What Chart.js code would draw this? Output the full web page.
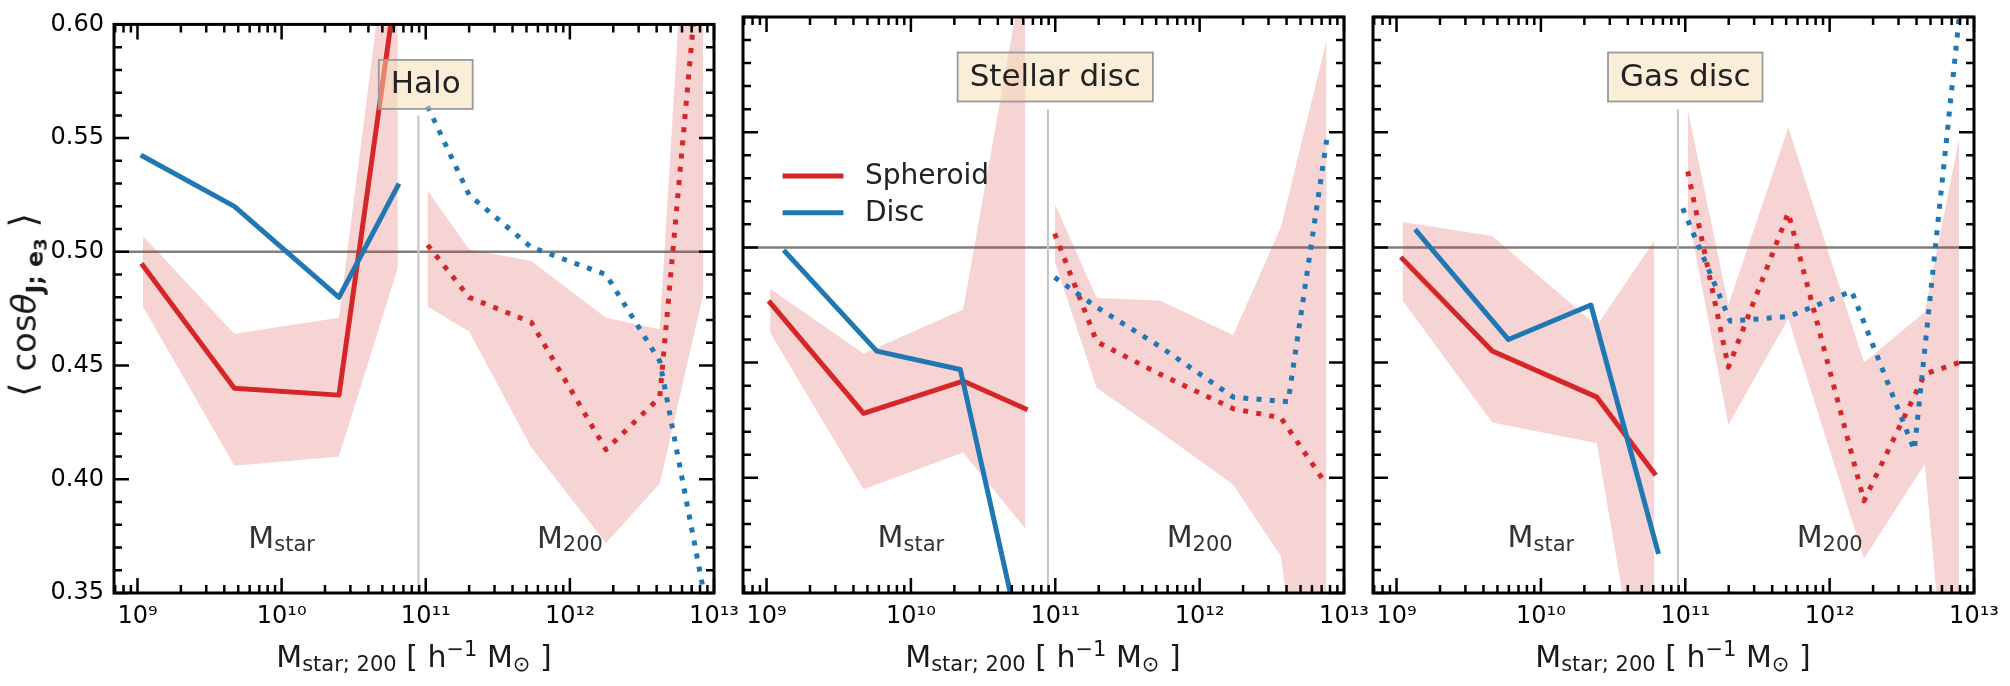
<!DOCTYPE html>
<html>
<head>
<meta charset="utf-8">
<script src="https://cdn.jsdelivr.net/npm/chart.js@4.4.1/dist/chart.umd.min.js"></script>
<style>
  body { margin: 0; background: #fff; font-family: "DejaVu Sans", sans-serif; }
  #wrap { position: relative; width: 2010px; height: 686px; overflow: hidden; }
  canvas { position: absolute; left: 0; top: 0; }
  .xt { position: absolute; top: 639px; font-size: 30px; line-height: 1; color: #1a1a1a; white-space: nowrap; transform: translateX(-50%); }
  .xt sub { font-size: 0.7em; vertical-align: -0.22em; }
  .xt sup { font-size: 0.7em; vertical-align: 0.5em; }
  #yt { position: absolute; left: 27px; top: 305px; font-size: 34px; line-height: 1; color: #1a1a1a; white-space: nowrap; transform: translate(-50%, -50%) rotate(-90deg); }
  #yt .br { font-size: 1.1em; }
  #yt sub { font-size: 0.7em; vertical-align: -0.3em; font-weight: bold; }
  #yt sub sub { font-size: 0.75em; vertical-align: -0.2em; }
</style>
</head>
<body>
<div id="wrap">
  <canvas id="halo" width="2010" height="686"></canvas>
  <canvas id="stellar" width="2010" height="686"></canvas>
  <canvas id="gas" width="2010" height="686"></canvas>
  <div id="yt"><span class="br">⟨</span> cos<i>θ</i><sub>J; e<sub>3</sub></sub> <span class="br">⟩</span></div>
  <div class="xt" style="left:414px">M<sub>star; 200</sub> [ h<sup>−1</sup> M<sub>⊙</sub> ]</div>
  <div class="xt" style="left:1043px">M<sub>star; 200</sub> [ h<sup>−1</sup> M<sub>⊙</sub> ]</div>
  <div class="xt" style="left:1673px">M<sub>star; 200</sub> [ h<sup>−1</sup> M<sub>⊙</sub> ]</div>
</div>
<script>
// axis ticks
const xTickValues = [1e9, 1e10, 1e11, 1e12, 1e13];
const xTickLabels = ['10⁹', '10¹⁰', '10¹¹', '10¹²', '10¹³'];
const yTickValues = [0.35, 0.40, 0.45, 0.50, 0.55, 0.60];
const yTickLabels = ['0.35', '0.40', '0.45', '0.50', '0.55', '0.60'];
const xMin = Math.pow(10, 8.837), xMax = 1e13;
const yMin = 0.35, yMax = 0.60;

const panelTitles = ['Halo', 'Stellar disc', 'Gas disc'];
const legendLabels = ['Spheroid', 'Disc'];
const refLevel = 0.5;        // horizontal reference
const splitMass = 8.9e10;    // M_star / M_200 divider
const splitTop = 0.56;

// Halo panel
const haloStarX      = [1.09e9, 4.7e9, 2.5e10, 6.4e10];
const haloStarSph    = [0.494, 0.440, 0.437, 0.622];
const haloStarSphLo  = [0.476, 0.406, 0.410, 0.493];
const haloStarSphHi  = [0.507, 0.464, 0.471, 0.675];
const haloStarDisc   = [0.542, 0.520, 0.480, 0.529];
const haloM200X      = [1.03e11, 2.0e11, 5.4e11, 1.78e12, 4.2e12, 8.4e12];
const haloM200Sph    = [0.503, 0.480, 0.469, 0.413, 0.436, 0.648];
const haloM200SphLo  = [0.476, 0.465, 0.414, 0.372, 0.398, 0.481];
const haloM200SphHi  = [0.527, 0.501, 0.496, 0.471, 0.466, 0.780];
const haloM200Disc   = [0.564, 0.525, 0.502, 0.490, 0.452, 0.352];

// Stellar disc panel
const stelStarSphX   = [1.06e9, 4.7e9, 2.3e10, 6.2e10];
const stelStarSph    = [0.476, 0.428, 0.442, 0.430];
const stelStarSphLo  = [0.463, 0.395, 0.411, 0.378];
const stelStarSphHi  = [0.482, 0.454, 0.473, 0.625];
const stelStarDiscX  = [1.35e9, 5.8e9, 2.2e10, 6.2e10];
const stelStarDisc   = [0.498, 0.455, 0.447, 0.321];
const stelM200SphX   = [9.9e10, 1.94e11, 5.3e11, 1.71e12, 3.66e12, 7.57e12];
const stelM200Sph    = [0.506, 0.459, 0.445, 0.430, 0.426, 0.397];
const stelM200SphLo  = [0.494, 0.439, 0.420, 0.397, 0.366, 0.210];
const stelM200SphHi  = [0.519, 0.478, 0.477, 0.462, 0.509, 0.590];
const stelM200DiscX  = [9.9e10, 1.94e11, 5.3e11, 1.71e12, 4.1e12, 7.6e12];
const stelM200Disc   = [0.487, 0.474, 0.457, 0.435, 0.433, 0.547];

// Gas disc panel
const gasStarSphX    = [1.1e9, 4.6e9, 2.44e10, 6.1e10];
const gasStarSph     = [0.495, 0.455, 0.435, 0.402];
const gasStarSphLo   = [0.477, 0.424, 0.415, 0.269];
const gasStarSphHi   = [0.511, 0.505, 0.466, 0.503];
const gasStarDiscX   = [1.38e9, 5.96e9, 2.22e10, 6.46e10];
const gasStarDisc    = [0.507, 0.460, 0.475, 0.368];
const gasM200SphX    = [1.04e11, 1.99e11, 5.17e11, 1.73e12, 4.56e12, 7.87e12];
const gasM200Sph     = [0.533, 0.448, 0.515, 0.390, 0.445, 0.450];
const gasM200SphLo   = [0.515, 0.423, 0.469, 0.365, 0.406, 0.242];
const gasM200SphHi   = [0.560, 0.475, 0.552, 0.450, 0.472, 0.547];
const gasM200DiscX   = [9.6e10, 2.05e11, 5.2e11, 1.42e12, 3.86e12, 7.9e12];
const gasM200Disc    = [0.517, 0.468, 0.470, 0.481, 0.412, 0.600];

const RED = '#d62728', BLUE = '#1f77b4', BAND = 'rgba(214,39,40,0.2)';
const FONT = '"DejaVu Sans", sans-serif';

const pts = (xs, ys) => xs.map((x, i) => ({x: x, y: ys[i]}));

function lineSet(label, xs, ys, color, dotted) {
    return {
        label: label,
        data: pts(xs, ys),
        borderColor: color,
        borderWidth: 5,
        borderDash: dotted ? [5, 8.25] : [],
        borderCapStyle: dotted ? 'butt' : 'square',
        borderJoinStyle: 'round',
        pointRadius: 0,
        tension: 0,
        fill: false
    };
}
function bandSets(xs, lo, hi) {
    return [
        {data: pts(xs, hi), borderWidth: 0, pointRadius: 0, backgroundColor: BAND, fill: '+1'},
        {data: pts(xs, lo), borderWidth: 0, pointRadius: 0, fill: false}
    ];
}

function drawSub(ctx, main, sub, cx, base, size, color) {
    ctx.font = size + 'px ' + FONT;
    const w1 = ctx.measureText(main).width;
    ctx.font = (size * 0.7) + 'px ' + FONT;
    const w2 = ctx.measureText(sub).width;
    let x0 = cx - (w1 + w2) / 2;
    ctx.fillStyle = color;
    ctx.textAlign = 'left';
    ctx.textBaseline = 'alphabetic';
    ctx.font = size + 'px ' + FONT;
    ctx.fillText(main, x0, base);
    ctx.font = (size * 0.7) + 'px ' + FONT;
    ctx.fillText(sub, x0 + w1, base + size * 0.13);
}

const panelDecor = {
    id: 'panelDecor',
    beforeDatasetsDraw(chart) {
        const ctx = chart.ctx, a = chart.chartArea, xs = chart.scales.x, ys = chart.scales.y;
        ctx.save();
        ctx.lineWidth = 2.5;
        ctx.strokeStyle = 'rgba(0,0,0,0.5)';
        const py = ys.getPixelForValue(refLevel);
        ctx.beginPath(); ctx.moveTo(a.left, py); ctx.lineTo(a.right, py); ctx.stroke();
        ctx.lineWidth = 2;
        ctx.strokeStyle = '#c4c4c4';
        const px = xs.getPixelForValue(splitMass);
        ctx.beginPath(); ctx.moveTo(px, ys.getPixelForValue(splitTop)); ctx.lineTo(px, a.bottom); ctx.stroke();
        ctx.restore();
    },
    afterDatasetsDraw(chart, args, opts) {
        const ctx = chart.ctx, a = chart.chartArea, xs = chart.scales.x, ys = chart.scales.y;
        ctx.save();
        // inward ticks on all sides
        ctx.strokeStyle = '#000';
        ctx.lineWidth = 2.5;
        ctx.beginPath();
        for (let e = 8; e <= 13; e++) {
            for (let m = 1; m <= 9; m++) {
                const v = m * Math.pow(10, e);
                if (v < xs.min * 0.999 || v > xs.max * 1.001) continue;
                const px = xs.getPixelForValue(v), len = m === 1 ? 15 : 8;
                ctx.moveTo(px, a.bottom); ctx.lineTo(px, a.bottom - len);
                ctx.moveTo(px, a.top); ctx.lineTo(px, a.top + len);
            }
        }
        for (let i = 0; i <= 25; i++) {
            const py = ys.getPixelForValue(yMin + i * 0.01), len = i % 5 === 0 ? 15 : 8;
            ctx.moveTo(a.left, py); ctx.lineTo(a.left + len, py);
            ctx.moveTo(a.right, py); ctx.lineTo(a.right - len, py);
        }
        ctx.stroke();
        ctx.lineWidth = 3;
        ctx.strokeRect(a.left, a.top, a.right - a.left, a.bottom - a.top);

        // regime labels
        const base = ys.getPixelForValue(0.37);
        drawSub(ctx, 'M', 'star', xs.getPixelForValue(1e10), base, 30, '#333');
        drawSub(ctx, 'M', '200', xs.getPixelForValue(1e12), base, 30, '#333');

        // title box
        ctx.font = '31px ' + FONT;
        const tw = ctx.measureText(opts.title).width;
        const cx = xs.getPixelForValue(1e11), cy = a.top + 60;
        const bw = tw + 24, bh = 49;
        ctx.fillStyle = 'rgba(245,222,179,0.5)';
        ctx.fillRect(cx - bw / 2, cy - bh / 2, bw, bh);
        ctx.lineWidth = 1.8;
        ctx.strokeStyle = '#9a9a9a';
        ctx.strokeRect(cx - bw / 2, cy - bh / 2, bw, bh);
        ctx.fillStyle = '#222';
        ctx.textAlign = 'center';
        ctx.textBaseline = 'middle';
        ctx.fillText(opts.title, cx, cy + 1);

        // legend
        if (opts.legend) {
            const w = a.right - a.left, h = a.bottom - a.top;
            const rows = [[legendLabels[0], RED, 0.276], [legendLabels[1], BLUE, 0.340]];
            ctx.font = '28px ' + FONT;
            ctx.textAlign = 'left';
            ctx.textBaseline = 'middle';
            rows.forEach(r => {
                const y = a.top + r[2] * h;
                ctx.strokeStyle = r[1];
                ctx.lineWidth = 5;
                ctx.lineCap = 'square';
                ctx.beginPath();
                ctx.moveTo(a.left + 0.070 * w, y); ctx.lineTo(a.left + 0.163 * w, y);
                ctx.stroke();
                ctx.fillStyle = '#222';
                ctx.fillText(r[0], a.left + 0.203 * w, y + 1);
            });
        }
        ctx.restore();
    }
};

function makePanel(id, padLeft, padRight, yWidth, showY, s, title, legend) {
    const datasets = [
        lineSet(legendLabels[1], s.starDiscX, s.starDisc, BLUE, false),
        lineSet(legendLabels[0], s.starSphX, s.starSph, RED, false),
        lineSet(legendLabels[1] + ' (M200)', s.m200DiscX, s.m200Disc, BLUE, true),
        lineSet(legendLabels[0] + ' (M200)', s.m200SphX, s.m200Sph, RED, true)
    ].concat(bandSets(s.starSphX, s.starSphLo, s.starSphHi))
     .concat(bandSets(s.m200SphX, s.m200SphLo, s.m200SphHi));

    new Chart(document.getElementById(id).getContext('2d'), {
        type: 'line',
        data: {datasets: datasets},
        options: {
            responsive: false,
            animation: false,
            events: [],
            layout: {padding: {left: padLeft, right: padRight, top: 17, bottom: 0}},
            plugins: {
                legend: {display: false},
                tooltip: {enabled: false},
                panelDecor: {title: title, legend: legend}
            },
            scales: {
                x: {
                    type: 'logarithmic',
                    min: xMin,
                    max: xMax,
                    grid: {display: false, drawTicks: false},
                    border: {display: false},
                    afterBuildTicks: sc => { sc.ticks = xTickValues.map(v => ({value: v})); },
                    afterFit: sc => { sc.height = 93; },
                    ticks: {
                        autoSkip: false,
                        maxRotation: 0,
                        padding: 9,
                        color: '#000',
                        font: {family: FONT, size: 24},
                        callback: (v, i) => xTickLabels[i]
                    }
                },
                y: {
                    type: 'linear',
                    min: yMin,
                    max: yMax,
                    grid: {display: false, drawTicks: false},
                    border: {display: false},
                    afterBuildTicks: sc => { sc.ticks = yTickValues.map(v => ({value: v})); },
                    afterFit: sc => { sc.width = yWidth; },
                    ticks: {
                        display: showY,
                        padding: 10,
                        color: '#000',
                        font: {family: FONT, size: 24},
                        callback: (v, i) => yTickLabels[i]
                    }
                }
            }
        },
        plugins: [panelDecor]
    });
}

makePanel('halo', 0, 2010 - 714, 114, true, {
    starSphX: haloStarX, starSph: haloStarSph, starSphLo: haloStarSphLo, starSphHi: haloStarSphHi,
    starDiscX: haloStarX, starDisc: haloStarDisc,
    m200SphX: haloM200X, m200Sph: haloM200Sph, m200SphLo: haloM200SphLo, m200SphHi: haloM200SphHi,
    m200DiscX: haloM200X, m200Disc: haloM200Disc
}, panelTitles[0], false);

makePanel('stellar', 733, 2010 - 1344, 10, false, {
    starSphX: stelStarSphX, starSph: stelStarSph, starSphLo: stelStarSphLo, starSphHi: stelStarSphHi,
    starDiscX: stelStarDiscX, starDisc: stelStarDisc,
    m200SphX: stelM200SphX, m200Sph: stelM200Sph, m200SphLo: stelM200SphLo, m200SphHi: stelM200SphHi,
    m200DiscX: stelM200DiscX, m200Disc: stelM200Disc
}, panelTitles[1], true);

makePanel('gas', 1363, 2010 - 1974, 10, false, {
    starSphX: gasStarSphX, starSph: gasStarSph, starSphLo: gasStarSphLo, starSphHi: gasStarSphHi,
    starDiscX: gasStarDiscX, starDisc: gasStarDisc,
    m200SphX: gasM200SphX, m200Sph: gasM200Sph, m200SphLo: gasM200SphLo, m200SphHi: gasM200SphHi,
    m200DiscX: gasM200DiscX, m200Disc: gasM200Disc
}, panelTitles[2], false);
</script>
</body>
</html>
